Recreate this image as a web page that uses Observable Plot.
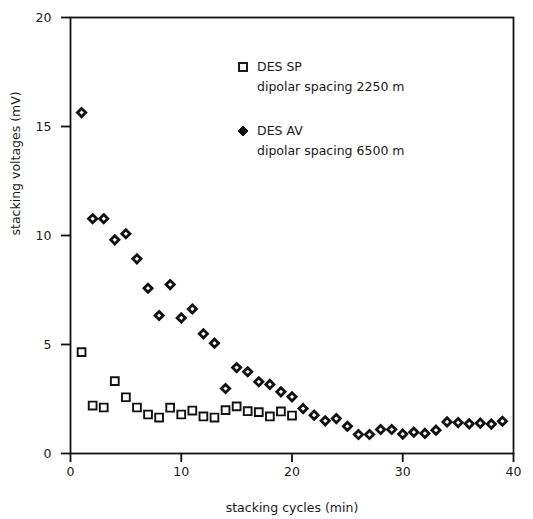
<!DOCTYPE html>
<html><head><meta charset="utf-8">
<script src="https://cdn.jsdelivr.net/npm/d3@7"></script>
<script src="https://cdn.jsdelivr.net/npm/@observablehq/plot@0.6"></script>
<style>
body{margin:0;background:#fff;font-family:"DejaVu Sans",sans-serif;}
#wrap{position:relative;width:533px;height:519px;}
#legend{position:absolute;left:0;top:0;font-size:12.5px;color:#1a1a1a;}
.lg{position:absolute;white-space:nowrap;line-height:20px;}
</style></head>
<body><div id="wrap"><div id="legend"></div></div>
<script>
// DES SP, dipolar spacing 2250 m
const spCycles = [1,2,3,4,5,6,7,8,9,10,11,12,13,14,15,16,17,18,19,20];
const spVolts  = [4.65,2.2,2.11,3.32,2.58,2.11,1.79,1.65,2.1,1.79,1.97,1.7,1.65,1.99,2.16,1.94,1.9,1.7,1.93,1.74];
// DES AV, dipolar spacing 6500 m
const avCycles = [1,2,3,4,5,6,7,8,9,10,11,12,13,14,15,16,17,18,19,20,21,22,23,24,25,26,27,28,29,30,31,32,33,34,35,36,37,38,39];
const avVolts  = [15.64,10.77,10.77,9.8,10.08,8.93,7.58,6.33,7.75,6.22,6.63,5.49,5.06,2.98,3.94,3.75,3.29,3.17,2.83,2.6,2.06,1.76,1.5,1.6,1.25,0.87,0.87,1.1,1.1,0.89,0.98,0.92,1.07,1.45,1.42,1.36,1.39,1.35,1.48];
const xTicks = [0,10,20,30,40];
const yTicks = [0,5,10,15,20];
const legendItems = [
  {symbol:"square", name:"DES SP", note:"dipolar spacing 2250 m"},
  {symbol:"diamond", name:"DES AV", note:"dipolar spacing 6500 m"}
];

const sp = spCycles.map((c,i)=>({x:c,y:spVolts[i]}));
const av = avCycles.map((c,i)=>({x:c,y:avVolts[i]}));

const chart = Plot.plot({
  width:533, height:519,
  marginLeft:70, marginRight:20, marginTop:17, marginBottom:66,
  style:{fontFamily:"DejaVu Sans, sans-serif", fontSize:"12.5px", color:"#1a1a1a", background:"#fff"},
  x:{domain:[0,40]},
  y:{domain:[0,20]},
  marks:[
    Plot.frame({stroke:"#111", strokeWidth:1.8}),
    Plot.axisX({ticks:xTicks, tickSize:9, tickPadding:5, stroke:"#111", strokeWidth:1.8, label:null}),
    Plot.axisY({ticks:yTicks, tickSize:9, tickPadding:10, stroke:"#111", strokeWidth:1.8, label:null}),
    Plot.dot(av, {x:"x", y:"y", symbol:"diamond2", r:3.7, fill:"#fff", stroke:"#111", strokeWidth:2.8}),
    Plot.dot(sp, {x:"x", y:"y", symbol:"square", r:4.4, fill:"#fff", stroke:"#111", strokeWidth:1.9}),
    Plot.text(["stacking cycles (min)"], {frameAnchor:"bottom", dy:58, fontSize:12.5, fill:"#1a1a1a"}),
    Plot.text(["stacking voltages (mV)"], {frameAnchor:"left", dx:-55, rotate:-90, fontSize:12.5, fill:"#1a1a1a"})
  ]
});
document.getElementById("wrap").prepend(chart);
chart.style.position="absolute"; chart.style.left="0"; chart.style.top="0";

const lg = document.getElementById("legend");
const lx = 243, tops = [67, 131];
legendItems.forEach((it,i)=>{
  const s = document.createElementNS("http://www.w3.org/2000/svg","svg");
  s.setAttribute("width",14); s.setAttribute("height",14);
  s.style.position="absolute"; s.style.left=(lx-7)+"px"; s.style.top=(tops[i]-7)+"px";
  s.innerHTML = it.symbol==="square"
    ? '<rect x="3" y="3" width="8" height="8" fill="#fff" stroke="#111" stroke-width="1.9"/>'
    : '<path d="M7,2 L12,7 L7,12 L2,7Z" fill="#111" stroke="#111" stroke-width="1"/>';
  lg.appendChild(s);
  const t = document.createElement("div");
  t.className="lg"; t.style.left=(lx+14)+"px"; t.style.top=(tops[i]-10)+"px";
  t.innerHTML = it.name+"<br>"+it.note;
  lg.appendChild(t);
});
</script></body></html>
